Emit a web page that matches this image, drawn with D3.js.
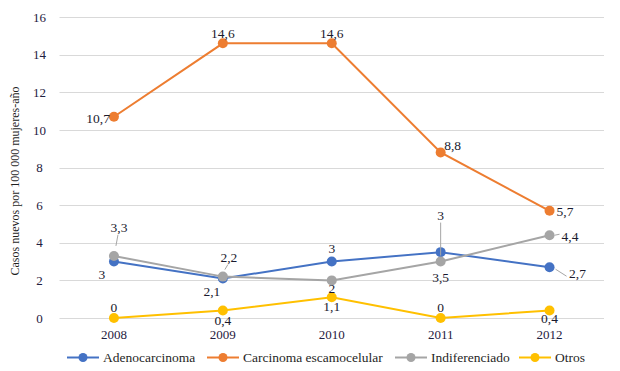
<!DOCTYPE html>
<html>
<head>
<meta charset="utf-8">
<script src="https://cdn.jsdelivr.net/npm/d3@7"></script>
<style>
  html, body { margin: 0; padding: 0; background: #ffffff; }
  svg { display: block; }
  svg text { font-family: "Liberation Serif", "Times New Roman", "DejaVu Serif", serif !important; }
</style>
</head>
<body>
<div id="chart"></div>
<script>
// Data
const years = ['2008', '2009', '2010', '2011', '2012'];
const seriesNames = ['Adenocarcinoma', 'Carcinoma escamocelular', 'Indiferenciado', 'Otros'];
const adenocarcinoma = [3.0, 2.1, 3.0, 3.5, 2.7];
const carcinomaEscamocelular = [10.7, 14.6, 14.6, 8.8, 5.7];
const indiferenciado = [3.3, 2.2, 2.0, 3.0, 4.4];
const otros = [0, 0.4, 1.1, 0, 0.4];
const yTicks = [0, 2, 4, 6, 8, 10, 12, 14, 16];

// label text as printed in the chart (Excel placement, 2011 labels swapped in source)
const adenoLabels = ['3', '2,1', '3', '3,5', '2,7'];
const carcLabels = ['10,7', '14,6', '14,6', '8,8', '5,7'];
const indifLabels = ['3,3', '2,2', '2', '3', '4,4'];
const otrosLabels = ['0', '0,4', '1,1', '0', '0,4'];

const colors = ['#4472C4', '#ED7D31', '#A5A5A5', '#FFC000'];

// label offsets relative to the point: [dx, dy, anchor, leader]
const labelLayout = [
  [[-12, 13, 'middle'], [-11, 13, 'middle'], [0, -13, 'middle'], [0, 25, 'middle'], [28, 6, 'middle', [[6, 2], [17, 9]]]],
  [[-4, 2, 'end'], [0, -10, 'middle'], [0, -10, 'middle'], [12, -7, 'middle'], [7, 1, 'start']],
  [[5, -28, 'middle', [[2, -10], [4, -21]]], [6, -19, 'middle', [[2, -7], [5, -12]]], [0, 8, 'middle'], [0, -46, 'middle', [[0, -39], [0, -6]]], [12, 1, 'start', [[5, 0], [10, -1]]]],
  [[0, -11, 'middle'], [0, 10, 'middle'], [0, 9, 'middle'], [0, -11, 'middle'], [0, 8, 'middle']]
];

const series = [adenocarcinoma, carcinomaEscamocelular, indiferenciado, otros];
const labels = [adenoLabels, carcLabels, indifLabels, otrosLabels];

const width = 620, height = 371;
const margin = { top: 17, right: 16, bottom: 53, left: 59.5 };
const serif = '"Liberation Serif", "Times New Roman", serif';

const svg = d3.select('#chart').append('svg')
  .attr('width', width)
  .attr('height', height);

const x = d3.scaleBand().domain(years).range([margin.left, width - margin.right]);
const y = d3.scaleLinear().domain([0, 16]).range([height - margin.bottom, margin.top]);
const cx = d => x(d) + x.bandwidth() / 2;

// gridlines
svg.append('g')
  .selectAll('line')
  .data(yTicks)
  .join('line')
  .attr('x1', margin.left)
  .attr('x2', width - margin.right)
  .attr('y1', d => Math.round(y(d)) + 0.5)
  .attr('y2', d => Math.round(y(d)) + 0.5)
  .attr('stroke', '#d9d9d9')
  .attr('stroke-width', 1);

// y axis labels
svg.append('g')
  .attr('transform', `translate(${margin.left - 20},0)`)
  .call(d3.axisLeft(y).tickValues(yTicks).tickSize(0).tickPadding(0))
  .call(g => g.select('.domain').remove())
  .call(g => g.attr('font-family', serif))
  .call(g => g.selectAll('text')
    .attr('font-size', 13)
    .attr('fill', '#1f2040')
    .attr('text-anchor', 'middle'));

// x axis labels
svg.append('g')
  .attr('transform', `translate(0,${height - margin.bottom + 12})`)
  .call(d3.axisBottom(x).tickSize(0).tickPadding(0))
  .call(g => g.select('.domain').remove())
  .call(g => g.attr('font-family', serif))
  .call(g => g.selectAll('text')
    .attr('font-size', 13)
    .attr('fill', '#1f2040'));

// y axis title
svg.append('text')
  .attr('transform', `translate(19,181) rotate(-90)`)
  .attr('text-anchor', 'middle')
  .attr('font-size', 12)
  .attr('fill', '#1f1f1f')
  .text('Casos nuevos por 100 000 mujeres-año');

const line = d3.line()
  .x((d, i) => cx(years[i]))
  .y(d => y(d));

// lines and markers
series.forEach((vals, s) => {
  const g = svg.append('g');
  g.append('path')
    .datum(vals)
    .attr('fill', 'none')
    .attr('stroke', colors[s])
    .attr('stroke-width', 2)
    .attr('d', line);
  g.selectAll('circle')
    .data(vals)
    .join('circle')
    .attr('cx', (d, i) => cx(years[i]))
    .attr('cy', d => y(d))
    .attr('r', 5)
    .attr('fill', colors[s]);
});

// data labels
series.forEach((vals, s) => {
  const g = svg.append('g');
  vals.forEach((v, i) => {
    const [dx, dy, anchor, leader] = labelLayout[s][i];
    const px = cx(years[i]), py = y(v);
    if (leader) {
      g.append('line')
        .attr('x1', px + leader[0][0]).attr('y1', py + leader[0][1])
        .attr('x2', px + leader[1][0]).attr('y2', py + leader[1][1])
        .attr('stroke', '#a6a6a6')
        .attr('stroke-width', 1);
    }
    g.append('text')
      .attr('x', px + dx)
      .attr('y', py + dy)
      .attr('text-anchor', anchor)
      .attr('dominant-baseline', 'central')
      .attr('font-size', 13.5)
      .attr('fill', '#1a1a2e')
      .text(labels[s][i]);
  });
});

// legend
const legendX = [67, 207, 395, 519];
const legend = svg.append('g').attr('transform', 'translate(0,357.5)');
seriesNames.forEach((name, s) => {
  const lg = legend.append('g').attr('transform', `translate(${legendX[s]},0)`);
  lg.append('line')
    .attr('x1', 0).attr('x2', 32)
    .attr('stroke', colors[s])
    .attr('stroke-width', 2);
  lg.append('circle')
    .attr('cx', 16).attr('r', 4.5)
    .attr('fill', colors[s]);
  lg.append('text')
    .attr('x', 36)
    .attr('dominant-baseline', 'central')
    .attr('font-size', 13.5)
    .attr('fill', '#1f1f1f')
    .text(name);
});
</script>
</body>
</html>
